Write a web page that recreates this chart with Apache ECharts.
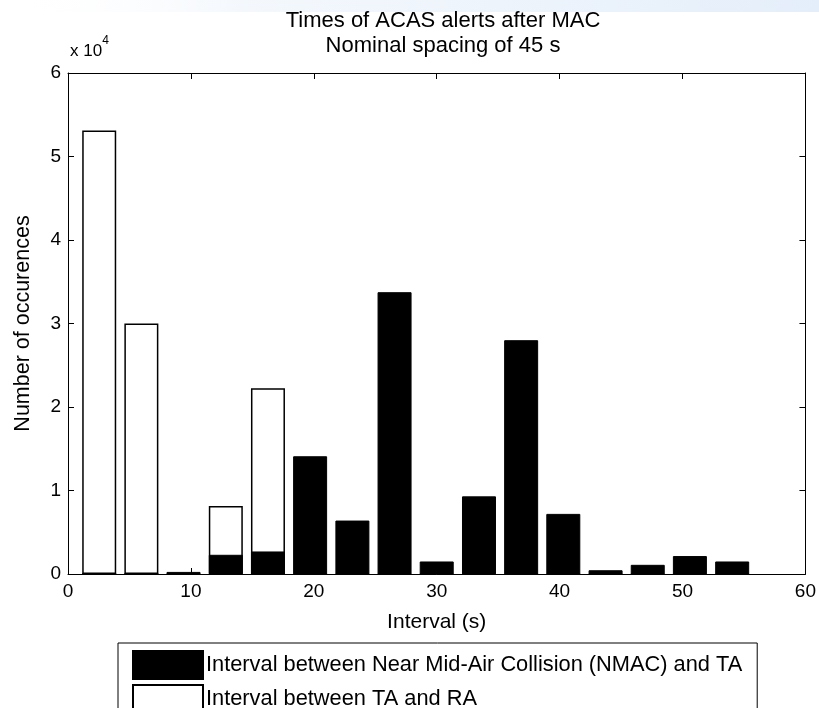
<!DOCTYPE html>
<html>
<head>
<meta charset="utf-8">
<script src="https://cdn.jsdelivr.net/npm/echarts@6/dist/echarts.min.js"></script>
<style>
  html, body { margin: 0; padding: 0; background: #fff; }
  #chart { width: 819px; height: 708px; }
</style>
</head>
<body>
<div id="chart"></div>
<script>
// bin centres of the histogram (s)
const binCenters = [2.54, 5.97, 9.40, 12.84, 16.27, 19.70, 23.14, 26.57, 30.00, 33.44, 36.87, 40.30, 43.74, 47.17, 50.60, 54.04];
// NMAC -> TA
const nmacToTa = [0, 0, 250, 2300, 2700, 14100, 6400, 33750, 1500, 9300, 28000, 7200, 450, 1100, 2150, 1500];
// TA -> RA
const taToRa = [53100, 30000, 0, 8150, 22250, 0, 0, 0, 0, 0, 0, 0, 0, 0, 0, 0];

const xTicks = [0, 10, 20, 30, 40, 50, 60];
const yTicks = [0, 1, 2, 3, 4, 5, 6]; // x 10^4

const nameBlack = 'Interval between Near Mid-Air Collision (NMAC) and TA';
const nameWhite = 'Interval between TA and RA';

const font = 'Liberation Sans';

const toPairs = (vals) => vals.map((v, i) => [binCenters[i], v]);

const tickStyle = { show: true, inside: true, length: 6, lineStyle: { color: '#000', width: 1 } };
const axisLine = { show: true, onZero: false, lineStyle: { color: '#000', width: 1 } };

const option = {
  backgroundColor: '#fff',
  animation: false,
  textStyle: { fontFamily: font },
  title: {
    text: 'Times of ACAS alerts after MAC\nNominal spacing of 45 s',
    left: 438,
    textAlign: 'center',
    top: 3,
    textStyle: { fontFamily: font, fontSize: 22, fontWeight: 'normal', color: '#000', lineHeight: 25 },
  },
  graphic: [
    {
      // faint blue band along the top edge of the screenshot
      type: 'rect',
      left: 0,
      top: 0,
      silent: true,
      z: -10,
      shape: { width: 819, height: 12 },
      style: {
        fill: {
          type: 'linear', x: 0, y: 0, x2: 1, y2: 0,
          colorStops: [
            { offset: 0, color: 'rgba(255,255,255,0)' },
            { offset: 0.3, color: 'rgba(236,243,251,0.6)' },
            { offset: 1, color: 'rgba(228,238,250,1)' },
          ],
        },
      },
    },
    {
      type: 'text',
      left: 70,
      top: 35,
      style: {
        text: '{a|x 10}{b|4}',
        rich: {
          a: { fontFamily: font, fontSize: 17, fill: '#000', padding: [8, 0, 0, 0] },
          b: { fontFamily: font, fontSize: 12, fill: '#000', verticalAlign: 'top' },
        },
      },
    },
  ],
  grid: { left: 68, top: 73, width: 740, height: 501 },
  xAxis: [
    {
      type: 'value',
      min: xTicks[0],
      max: xTicks[xTicks.length - 1],
      interval: 10,
      name: 'Interval (s)',
      nameLocation: 'middle',
      nameGap: 38,
      nameTextStyle: { fontFamily: font, fontSize: 21, color: '#000' },
      axisLine,
      axisTick: tickStyle,
      axisLabel: { color: '#000', fontSize: 19, fontFamily: font, margin: 8 },
      splitLine: { show: false },
    },
    {
      type: 'value',
      position: 'top',
      min: xTicks[0],
      max: xTicks[xTicks.length - 1],
      interval: 10,
      axisLine,
      axisTick: tickStyle,
      axisLabel: { show: false },
      splitLine: { show: false },
    },
  ],
  yAxis: [
    {
      type: 'value',
      min: 0,
      max: yTicks[yTicks.length - 1] * 1e4,
      interval: 1e4,
      name: 'Number of occurences',
      nameLocation: 'middle',
      nameGap: 34,
      nameTextStyle: { fontFamily: font, fontSize: 21.5, color: '#000' },
      axisLine,
      axisTick: tickStyle,
      axisLabel: { color: '#000', fontSize: 19, fontFamily: font, margin: 7, formatter: (v) => String(v / 1e4) },
      splitLine: { show: false },
    },
    {
      type: 'value',
      position: 'right',
      min: 0,
      max: yTicks[yTicks.length - 1] * 1e4,
      interval: 1e4,
      axisLine,
      axisTick: tickStyle,
      axisLabel: { show: false },
      splitLine: { show: false },
    },
  ],
  legend: {
    orient: 'vertical',
    left: 118,
    top: 643,
    height: 200,
    data: [nameBlack, nameWhite],
    icon: 'rect',
    itemWidth: 70,
    itemHeight: 28,
    itemGap: 4,
    padding: [7, 15, 7, 14],
    borderColor: '#000',
    borderWidth: 1,
    borderRadius: 0,
    textStyle: { fontFamily: font, fontSize: 21.8, color: '#000', padding: [0, 0, 0, -2] },
  },
  series: [
    {
      name: nameWhite,
      type: 'bar',
      barWidth: 34,
      barGap: '-100%',
      itemStyle: { color: '#fff', borderColor: '#000', borderWidth: 1.5 },
      data: toPairs(taToRa),
    },
    {
      name: nameBlack,
      type: 'bar',
      barWidth: 34,
      barGap: '-100%',
      itemStyle: { color: '#000', borderColor: '#000', borderWidth: 1 },
      data: toPairs(nmacToTa),
    },
  ],
};

const chart = echarts.init(document.getElementById('chart'));
chart.setOption(option);
</script>
</body>
</html>
